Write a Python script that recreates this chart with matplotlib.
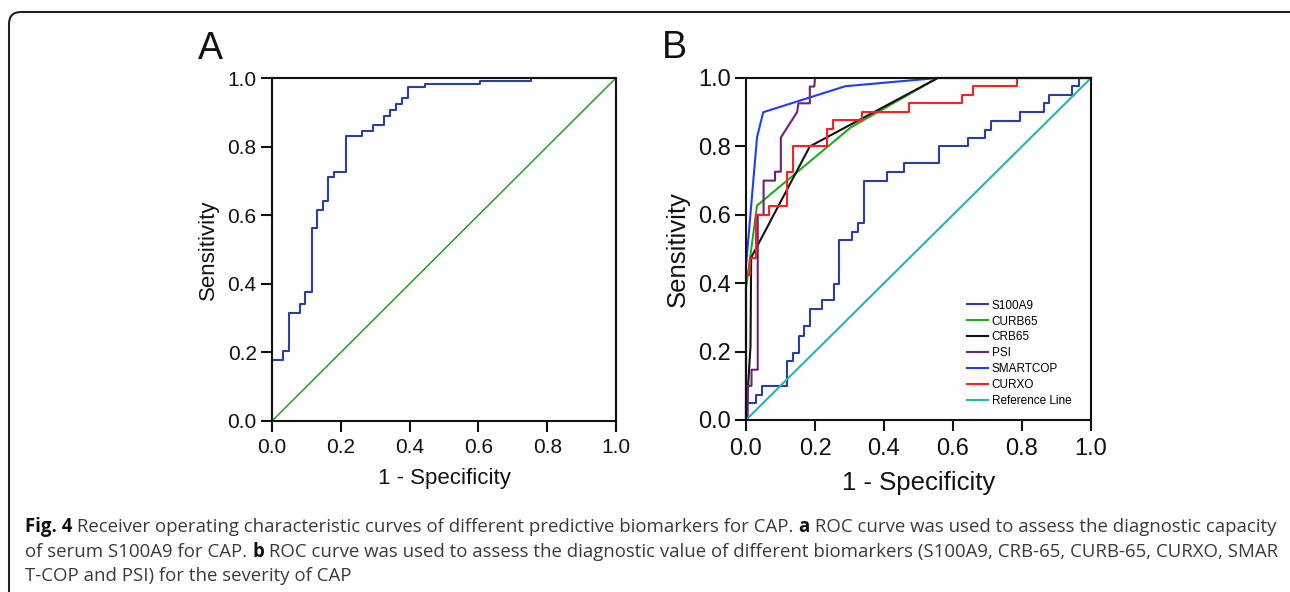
import matplotlib
matplotlib.use('Agg')
import matplotlib.pyplot as plt
import matplotlib.patches as mpatches

# ---- panel A: S100A9 for CAP (steps-post corners)
a_fpr = [0, 0, 0.032, 0.0495, 0.081, 0.097, 0.115, 0.131, 0.147, 0.164, 0.180,
         0.214, 0.261, 0.294, 0.326, 0.343, 0.360, 0.377, 0.394, 0.445, 0.605,
         0.752, 1.0]
a_tpr = [0, 0.178, 0.205, 0.316, 0.341, 0.375, 0.564, 0.615, 0.641, 0.710, 0.727,
         0.830, 0.846, 0.864, 0.889, 0.906, 0.924, 0.942, 0.974, 0.982, 0.990,
         1.0, 1.0]

# ---- panel B: severity of CAP
s100_fpr = [0, 0, 0.030, 0.047, 0.118, 0.135, 0.153, 0.169, 0.186, 0.220, 0.254,
            0.271, 0.306, 0.324, 0.343, 0.408, 0.459, 0.558, 0.643, 0.692, 0.710,
            0.795, 0.863, 0.877, 0.945, 0.964, 1.0]
s100_tpr = [0, 0.049, 0.073, 0.099, 0.172, 0.196, 0.247, 0.274, 0.325, 0.350, 0.399,
            0.526, 0.549, 0.575, 0.700, 0.726, 0.751, 0.800, 0.824, 0.849, 0.875,
            0.902, 0.927, 0.951, 0.976, 1.0, 1.0]

curxo_fpr = [0, 0, 0.013, 0.030, 0.066, 0.119, 0.135, 0.235, 0.251, 0.336, 0.472,
             0.626, 0.658, 0.785, 1.0]
curxo_tpr = [0, 0.424, 0.474, 0.600, 0.625, 0.726, 0.800, 0.850, 0.876, 0.902, 0.927,
             0.951, 0.976, 1.0, 1.0]

curb_fpr = [0, 0, 0.032, 0.303, 0.555, 1.0]
curb_tpr = [0, 0.385, 0.627, 0.855, 1.0, 1.0]

crb_fpr = [0, 0.006, 0.013, 0.015, 0.185, 0.556, 1.0]
crb_tpr = [0, 0.098, 0.215, 0.475, 0.800, 1.0, 1.0]

psi_fpr = [0, 0.005, 0.005, 0.016, 0.016, 0.034, 0.034, 0.051, 0.051, 0.084, 0.084,
           0.101, 0.101, 0.148, 0.152, 0.185, 0.185, 0.198, 0.200]
psi_tpr = [0, 0, 0.100, 0.100, 0.147, 0.147, 0.600, 0.600, 0.700, 0.700, 0.726,
           0.726, 0.826, 0.900, 0.926, 0.926, 0.975, 0.975, 1.0]

smart_fpr = [0, 0, 0.032, 0.050, 0.288, 0.555, 1.0]
smart_tpr = [0, 0.450, 0.827, 0.900, 0.976, 1.0, 1.0]

ref_line = [0, 1]

ticks = [0.0, 0.2, 0.4, 0.6, 0.8, 1.0]
tick_labels = ['0.0', '0.2', '0.4', '0.6', '0.8', '1.0']

caption_lines = [
    [('Fig. 4', 'bold'),
     (' Receiver operating characteristic curves of different predictive biomarkers for CAP. ', 'normal'),
     ('a', 'bold'),
     (' ROC curve was used to assess the diagnostic capacity', 'normal')],
    [('of serum S100A9 for CAP. ', 'normal'),
     ('b', 'bold'),
     (' ROC curve was used to assess the diagnostic value of different biomarkers (S100A9, CRB-65, CURB-65, CURXO, SMAR', 'normal')],
    [('T-COP and PSI) for the severity of CAP', 'normal')],
]

W, H = 1290, 592


def style_axes(ax, tick_size, label_size, xpad):
    ax.set_xlim(0, 1)
    ax.set_ylim(0, 1)
    ax.set_xticks(ticks)
    ax.set_xticklabels(tick_labels)
    ax.set_yticks(ticks)
    ax.set_yticklabels(tick_labels)
    for sp in ax.spines.values():
        sp.set_linewidth(1.5)
        sp.set_color('#111111')
    ax.tick_params(direction='out', length=8, width=1.5, labelsize=tick_size,
                   top=False, right=False, pad=3, colors='#111111')
    ax.tick_params(axis='x', pad=xpad)
    ax.set_xlabel('1 - Specificity', fontsize=label_size, labelpad=8, color='#111111')
    ax.set_ylabel('Sensitivity', fontsize=label_size, labelpad=6, color='#111111')


def main():
    plt.rcParams['font.family'] = ['Liberation Sans', 'DejaVu Sans']
    fig = plt.figure(figsize=(W / 100, H / 100), dpi=100)

    # rounded frame (only top and left visible)
    frame = mpatches.FancyBboxPatch((9, -30), W + 30, H + 30 - 12,
                                    boxstyle='round,pad=0,rounding_size=12',
                                    transform=None, fill=False, lw=1.5,
                                    edgecolor='#222222')
    fig.patches.append(frame)

    axa = fig.add_axes([272 / W, 1 - 421 / H, 344 / W, 343 / H])
    axb = fig.add_axes([746 / W, 1 - 420 / H, 345 / W, 342 / H])

    # panel A
    axa.plot(a_fpr, a_tpr, drawstyle='steps-post', color='#2b3ea3', lw=1.5, clip_on=False)
    axa.plot(ref_line, ref_line, color='#22a022', lw=1.1)
    style_axes(axa, 15, 16, 4)

    # panel B
    lb, = axb.plot(s100_fpr, s100_tpr, drawstyle='steps-post', color='#2b3ea3', lw=1.5,
                   label='S100A9', clip_on=False)
    lg, = axb.plot(curb_fpr, curb_tpr, color='#1faa1f', lw=1.5, label='CURB65', clip_on=False)
    lk, = axb.plot(crb_fpr, crb_tpr, color='#111111', lw=1.5, label='CRB65', clip_on=False)
    lp, = axb.plot(psi_fpr, psi_tpr, color='#6e2275', lw=1.5, label='PSI', clip_on=False)
    ls, = axb.plot(smart_fpr, smart_tpr, color='#1f3cff', lw=1.5, label='SMARTCOP', clip_on=False)
    lr, = axb.plot(curxo_fpr, curxo_tpr, drawstyle='steps-post', color='#ff1f1f', lw=1.5,
                   label='CURXO', clip_on=False)
    lc, = axb.plot(ref_line, ref_line, color='#22b5b8', lw=1.5, label='Reference Line')
    style_axes(axb, 17, 18.5, 5)
    axb.legend(handles=[lb, lg, lk, lp, ls, lr, lc], loc='upper left',
               bbox_to_anchor=(0.64, 0.352), frameon=False, fontsize=8.5,
               handlelength=1.8, handletextpad=0.3, labelspacing=0.33,
               borderpad=0, borderaxespad=0)

    # panel letters
    fig.text(198 / W, 1 - 59 / H, 'A', fontsize=27, va='baseline', color='#111111')
    fig.text(662 / W, 1 - 58 / H, 'B', fontsize=27, va='baseline', color='#111111')

    # caption, bold and regular runs placed one after another
    renderer = fig.canvas.get_renderer()
    baselines = [532, 557, 581]
    for pieces, yb in zip(caption_lines, baselines):
        x = 25
        for s, wt in pieces:
            t = fig.text(x / W, 1 - yb / H, s, fontsize=13.4, weight=wt,
                         family=['Open Sans', 'DejaVu Sans'], va='baseline',
                         color='#111111' if wt == 'bold' else '#3a3a3a')
            bb = t.get_window_extent(renderer)
            x += bb.width

    fig.savefig('out.png', dpi=100)


main()
